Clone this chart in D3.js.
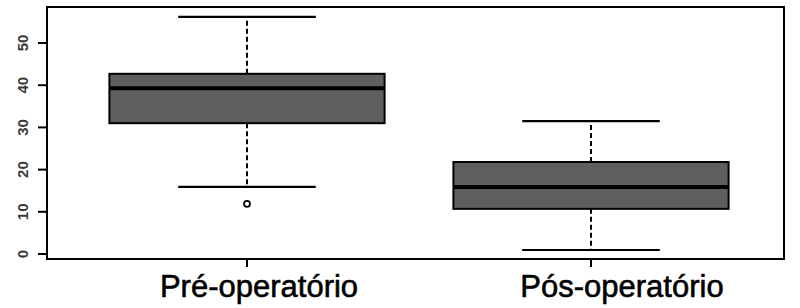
<!DOCTYPE html>
<html>
<head>
<meta charset="utf-8">
<script src="https://cdn.jsdelivr.net/npm/d3@7"></script>
<style>
html,body{margin:0;padding:0;background:#fff;}
svg{display:block;}
</style>
</head>
<body>
<svg id="chart" width="800" height="308"></svg>
<script>
const categories = ["Pré-operatório", "Pós-operatório"];
const whiskerLow = [15.9, 0.95];
const q1 = [31.0, 10.7];
const median = [39.3, 15.9];
const q3 = [42.7, 21.8];
const whiskerHigh = [56.2, 31.5];
const outliers = [[11.9], []];
const yTicks = [0, 10, 20, 30, 40, 50];

const svg = d3.select("#chart");
const frame = {left: 47, right: 784, top: 7, bottom: 259};
const labelShift = [12, 31];

const x = d3.scaleLinear().domain([1, 2]).range([247, 591]);
const y = d3.scaleLinear().domain([0, 50]).range([254, 43]);
const boxW = (x(2) - x(1)) * 0.8;
const capW = (x(2) - x(1)) * 0.4;

const data = categories.map((c, i) => ({
  c, i, pos: i + 1,
  lo: whiskerLow[i], q1: q1[i], med: median[i], q3: q3[i], hi: whiskerHigh[i],
  out: outliers[i]
}));

const g = svg.append("g");

// whiskers (dashed)
g.selectAll(".wu").data(data).join("line")
  .attr("x1", d => x(d.pos)).attr("x2", d => x(d.pos))
  .attr("y1", d => y(d.q3)).attr("y2", d => y(d.hi))
  .attr("stroke", "#000").attr("stroke-width", 2).attr("stroke-dasharray", "5,3");
g.selectAll(".wl").data(data).join("line")
  .attr("x1", d => x(d.pos)).attr("x2", d => x(d.pos))
  .attr("y1", d => y(d.q1)).attr("y2", d => y(d.lo))
  .attr("stroke", "#000").attr("stroke-width", 2).attr("stroke-dasharray", "5,3");

// caps
g.selectAll(".ch").data(data).join("line")
  .attr("x1", d => x(d.pos) - capW / 2).attr("x2", d => x(d.pos) + capW / 2)
  .attr("y1", d => y(d.hi)).attr("y2", d => y(d.hi))
  .attr("stroke", "#000").attr("stroke-width", 2.2);
g.selectAll(".cl").data(data).join("line")
  .attr("x1", d => x(d.pos) - capW / 2).attr("x2", d => x(d.pos) + capW / 2)
  .attr("y1", d => y(d.lo)).attr("y2", d => y(d.lo))
  .attr("stroke", "#000").attr("stroke-width", 2.2);

// boxes
g.selectAll(".box").data(data).join("rect")
  .attr("x", d => x(d.pos) - boxW / 2)
  .attr("y", d => y(d.q3))
  .attr("width", boxW)
  .attr("height", d => y(d.q1) - y(d.q3))
  .attr("fill", "#5f5f5f").attr("stroke", "#000").attr("stroke-width", 2);

// medians
g.selectAll(".med").data(data).join("line")
  .attr("x1", d => x(d.pos) - boxW / 2).attr("x2", d => x(d.pos) + boxW / 2)
  .attr("y1", d => y(d.med)).attr("y2", d => y(d.med))
  .attr("stroke", "#000").attr("stroke-width", 4);

// outliers
data.forEach(d => {
  g.selectAll(null).data(d.out).join("circle")
    .attr("cx", x(d.pos)).attr("cy", v => y(v)).attr("r", 3)
    .attr("fill", "#fff").attr("stroke", "#000").attr("stroke-width", 1.8);
});

// frame
svg.append("rect")
  .attr("x", frame.left).attr("y", frame.top)
  .attr("width", frame.right - frame.left).attr("height", frame.bottom - frame.top)
  .attr("fill", "none").attr("stroke", "#000").attr("stroke-width", 2);

// y axis
const ya = svg.append("g");
ya.selectAll("line").data(yTicks).join("line")
  .attr("x1", frame.left - 9).attr("x2", frame.left)
  .attr("y1", d => y(d)).attr("y2", d => y(d))
  .attr("stroke", "#000").attr("stroke-width", 2);
ya.selectAll("text").data(yTicks).join("text")
  .attr("transform", d => `translate(27.5,${y(d)}) rotate(-90)`)
  .attr("text-anchor", "middle")
  .attr("font-family", "Liberation Sans, Arial, sans-serif")
  .attr("font-size", 15).attr("font-weight", "bold")
  .attr("fill", "#3a3a3a")
  .text(d => d);

// x axis
const xa = svg.append("g");
xa.selectAll("line").data(data).join("line")
  .attr("x1", d => x(d.pos)).attr("x2", d => x(d.pos))
  .attr("y1", frame.bottom).attr("y2", frame.bottom + 8)
  .attr("stroke", "#000").attr("stroke-width", 2);
xa.selectAll("text").data(data).join("text")
  .attr("x", d => x(d.pos) + labelShift[d.i]).attr("y", 297)
  .attr("text-anchor", "middle")
  .attr("font-family", "Liberation Sans, Arial, sans-serif")
  .attr("font-size", 31)
  .attr("fill", "#000").attr("stroke", "#000").attr("stroke-width", 0.6)
  .text(d => d.c);
</script>
</body>
</html>
